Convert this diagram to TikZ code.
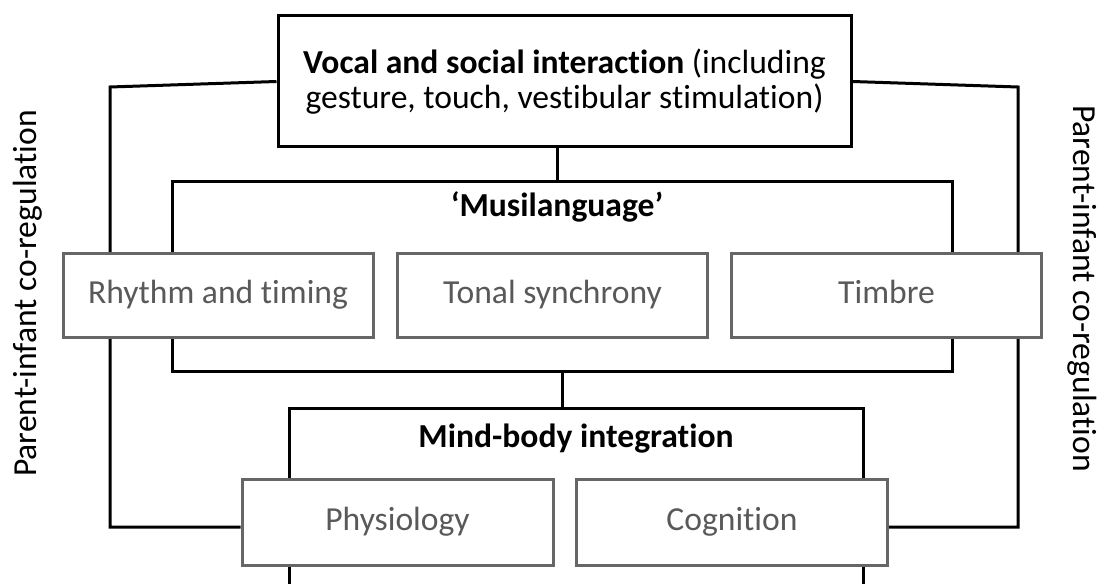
\documentclass[tikz,border=0pt]{standalone}
\usepackage{fontspec}
\setmainfont{Carlito}[Ligatures=NoCommon]
\usetikzlibrary{backgrounds}
\definecolor{framegray}{HTML}{666666}
\definecolor{textgray}{HTML}{595959}
\tikzset{every node/.append style={font=\fontsize{25.2}{26.5}\selectfont}}
\tikzset{
  mainbox/.style={draw,line width=2.25pt,fill=white,align=center,inner sep=0pt},
  subbox/.style={draw=framegray,line width=2.25pt,fill=white,text=textgray,
    minimum width=232.5pt,minimum height=63pt,inner sep=0pt,
    text height=17pt,text depth=5pt},
  heading/.style={font=\fontsize{25.2}{26.5}\selectfont\bfseries,anchor=base},
  sidelabel/.style={inner sep=0pt},
  link/.style={line width=2.25pt}
}

\begin{document}
\begin{tikzpicture}[x=0.75pt,y=-0.75pt]
  \useasboundingbox (0,0) rectangle (1099,584);
  \node[mainbox,minimum width=429.75pt,minimum height=98.25pt] (vocal) at (564.5,81.5)
    {\textbf{Vocal and social interaction} (including\\gesture, touch, vestibular stimulation)};
  % musilanguage frame and its parts
  \node[mainbox,minimum width=585pt,minimum height=142.5pt] (musi) at (562,277) {};
  \node[heading] (musititle) at (557,217) {‘Musilanguage’};
  \node[subbox] (rhythm) at (218,296) {Rhythm and timing};
  \node[subbox] (tonal) at (552.5,296) {Tonal synchrony};
  \node[subbox] (timbre) at (886.5,296) {Timbre};
  % mind-body frame, open at the bottom
  \node[minimum width=429.75pt,minimum height=131.25pt,inner sep=0pt] (mind) at (576.5,496.5) {};
  \draw[link] (mind.south west) -- (mind.north west) -- (mind.north east) -- (mind.south east);
  \node[heading] (mindtitle) at (576,447) {Mind-body integration};
  \node[subbox,minimum width=233.25pt,minimum height=64.5pt] (phys) at (397.5,522) {Physiology};
  \node[subbox,minimum width=233.25pt,minimum height=64.5pt] (cog) at (732,522) {Cognition};
  % co-regulation loop
  \coordinate (lcorner) at (110,87);
  \coordinate (rcorner) at (1018,87);
  \node[sidelabel,rotate=90] (leftlabel) at (27.5,293.5) {Parent-infant co-regulation};
  \node[sidelabel,rotate=-90] (rightlabel) at (1082,288.5) {Parent-infant co-regulation};
  \begin{scope}[on background layer]
    \draw[link] (musititle.base |- vocal.south) -- (musititle.base |- musi.north);
    \draw[link] (musi.south) -- (musi.south |- mind.north);
    \draw[link] (vocal.west) -- (lcorner) |- ([yshift=-3.75pt]phys.west);
    \draw[link] (vocal.east) -- (rcorner) |- ([yshift=-3.75pt]cog.east);
  \end{scope}
\end{tikzpicture}
\end{document}
